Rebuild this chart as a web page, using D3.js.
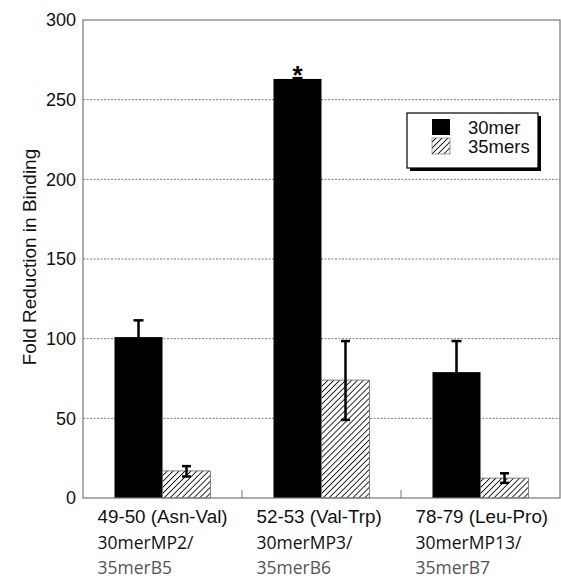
<!DOCTYPE html>
<html>
  <head>
    <meta charset="utf-8">
    <title>Fold Reduction in Binding</title>
    <script src="https://d3js.org/d3.v7.min.js"></script>
    <style>
      body { margin: 0; background: #fff; }
      text { font-family: "Liberation Sans", Arial, sans-serif; }
    </style>
  </head>
  <body>
    <div id="chart"></div>
    <script>
      // data
      var sites = ["49-50 (Asn-Val)", "52-53 (Val-Trp)", "78-79 (Leu-Pro)"];
      var line2 = ["30merMP2/", "30merMP3/", "30merMP13/"];
      var line3 = ["35merB5", "35merB6", "35merB7"];
      var series = ["30mer", "35mers"];
      var val30 = [101, 263, 79];
      var err30 = [10.5, 0.5, 19.5];
      var val35 = [17, 74, 12.5];
      var errLo35 = [3.5, 25, 3];
      var errHi35 = [3, 24.5, 3];
      var yTicks = [0, 50, 100, 150, 200, 250, 300];

      var margin = { top: 20, right: 1, bottom: 80, left: 83 },
          width = 561 - margin.left - margin.right,
          height = 578 - margin.top - margin.bottom;

      var svg = d3.select("#chart")
                  .append("svg")
                  .attr("width", 561)
                  .attr("height", 578);

      var defs = svg.append("defs");
      var pat = defs.append("pattern")
          .attr("id", "hatch")
          .attr("patternUnits", "userSpaceOnUse")
          .attr("width", 4.2)
          .attr("height", 4.2)
          .attr("patternTransform", "rotate(45)");
      pat.append("rect").attr("width", 4.2).attr("height", 4.2).attr("fill", "#fff");
      pat.append("line")
         .attr("x1", 0).attr("y1", 0).attr("x2", 0).attr("y2", 4.2)
         .attr("stroke", "#111").attr("stroke-width", 1.8);

      var g = svg.append("g")
                 .attr("transform", "translate(" + margin.left + "," + margin.top + ")");

      var x0 = d3.scaleBand().domain(d3.range(sites.length)).range([0, width]);
      var x1 = d3.scaleBand().domain(series).range([x0.bandwidth() / 2 - 48, x0.bandwidth() / 2 + 48]);
      var y = d3.scaleLinear().domain([0, 300]).range([height, 0]);

      // dotted grid
      g.selectAll(".grid")
       .data(yTicks.filter(function(d) { return d > 0 && d < 300; }))
       .enter().append("line")
       .attr("x1", 0).attr("x2", width)
       .attr("y1", function(d) { return y(d); })
       .attr("y2", function(d) { return y(d); })
       .attr("stroke", "#777")
       .attr("stroke-width", 1)
       .attr("stroke-dasharray", "2,1.5");

      // y tick labels
      var yAxis = g.append("g")
         .call(d3.axisLeft(y).tickValues(yTicks).tickSize(0).tickPadding(7));
      yAxis.select(".domain").remove();
      yAxis.selectAll("text")
           .style("font-family", "'Liberation Sans', Arial, sans-serif")
           .style("font-size", "18px")
           .attr("fill", "#111");

      // bars
      var groups = g.selectAll(".grp")
        .data(sites)
        .enter().append("g")
        .attr("transform", function(d, i) { return "translate(" + x0(i) + ",0)"; });

      groups.append("rect")
        .attr("x", x1("30mer"))
        .attr("width", x1.bandwidth())
        .attr("y", function(d, i) { return y(val30[i]); })
        .attr("height", function(d, i) { return height - y(val30[i]); })
        .attr("fill", "#000");

      groups.append("rect")
        .attr("x", x1("35mers"))
        .attr("width", x1.bandwidth())
        .attr("y", function(d, i) { return y(val35[i]); })
        .attr("height", function(d, i) { return height - y(val35[i]); })
        .attr("fill", "url(#hatch)")
        .attr("stroke", "#666")
        .attr("stroke-width", 0.8);

      // error bars
      var c30 = x1("30mer") + x1.bandwidth() / 2;
      groups.append("line")
        .attr("x1", c30).attr("x2", c30)
        .attr("y1", function(d, i) { return y(val30[i]); })
        .attr("y2", function(d, i) { return y(val30[i] + err30[i]); })
        .attr("stroke", "#000").attr("stroke-width", 2.5);
      groups.append("line")
        .attr("x1", c30 - 5).attr("x2", c30 + 5)
        .attr("y1", function(d, i) { return y(val30[i] + err30[i]); })
        .attr("y2", function(d, i) { return y(val30[i] + err30[i]); })
        .attr("stroke", "#000").attr("stroke-width", 2.5);

      var c35 = x1("35mers") + x1.bandwidth() / 2;
      groups.append("line")
        .attr("x1", c35).attr("x2", c35)
        .attr("y1", function(d, i) { return y(val35[i] - errLo35[i]); })
        .attr("y2", function(d, i) { return y(val35[i] + errHi35[i]); })
        .attr("stroke", "#000").attr("stroke-width", 2.5);
      [function(i) { return val35[i] - errLo35[i]; }, function(i) { return val35[i] + errHi35[i]; }]
        .forEach(function(f) {
          groups.append("line")
            .attr("x1", c35 - 4.5).attr("x2", c35 + 4.5)
            .attr("y1", function(d, i) { return y(f(i)); })
            .attr("y2", function(d, i) { return y(f(i)); })
            .attr("stroke", "#000").attr("stroke-width", 2.5);
        });

      // significance star
      g.append("text")
       .attr("x", x0(1) + c30)
       .attr("y", y(val30[1] + err30[1]) + 6)
       .attr("text-anchor", "middle")
       .style("font-size", "26px")
       .style("font-weight", "bold")
       .text("*");

      // frame
      g.append("rect")
       .attr("width", width).attr("height", height)
       .attr("fill", "none").attr("stroke", "#777").attr("stroke-width", 1.2);

      // x ticks between groups
      g.selectAll(".xt")
       .data([1, 2])
       .enter().append("line")
       .attr("x1", function(d) { return x0(d); })
       .attr("x2", function(d) { return x0(d); })
       .attr("y1", height).attr("y2", height - 8)
       .attr("stroke", "#777");

      // x labels
      var lab = g.selectAll(".xl")
        .data(sites)
        .enter().append("g")
        .attr("transform", function(d, i) { return "translate(" + (x0(i) + x0.bandwidth() / 2 - 65) + "," + height + ")"; });
      lab.append("text").attr("y", 25)
         .style("font-size", "18.8px").attr("fill", "#111")
         .text(function(d) { return d; });
      lab.append("text").attr("y", 51)
         .style("font-family", "'Open Sans', sans-serif")
         .style("font-size", "17.5px").attr("fill", "#111")
         .text(function(d, i) { return line2[i]; });
      lab.append("text").attr("y", 76)
         .style("font-family", "'Open Sans', sans-serif")
         .style("font-size", "17.5px").attr("fill", "#555")
         .text(function(d, i) { return line3[i]; });

      // y axis title
      g.append("text")
       .attr("transform", "rotate(-90)")
       .attr("x", -237)
       .attr("y", -47)
       .attr("text-anchor", "middle")
       .style("font-size", "19px")
       .attr("fill", "#111")
       .text("Fold Reduction in Binding");

      // legend
      var leg = svg.append("g").attr("transform", "translate(407,113)");
      leg.append("rect").attr("x", 3).attr("y", 3).attr("width", 131).attr("height", 55).attr("fill", "#000");
      leg.append("rect").attr("width", 131).attr("height", 55)
         .attr("fill", "#fff").attr("stroke", "#000").attr("stroke-width", 1.2);
      var fills = ["#000", "url(#hatch)"];
      series.forEach(function(s, i) {
        leg.append("rect").attr("x", 25).attr("y", 6 + i * 19).attr("width", 18).attr("height", 16)
           .attr("fill", fills[i]).attr("stroke", i ? "#666" : "none").attr("stroke-width", 0.6);
        leg.append("text").attr("x", 61).attr("y", 21 + i * 19)
           .style("font-size", "18.5px").attr("fill", "#111").text(s);
      });
    </script>
  </body>
</html>
